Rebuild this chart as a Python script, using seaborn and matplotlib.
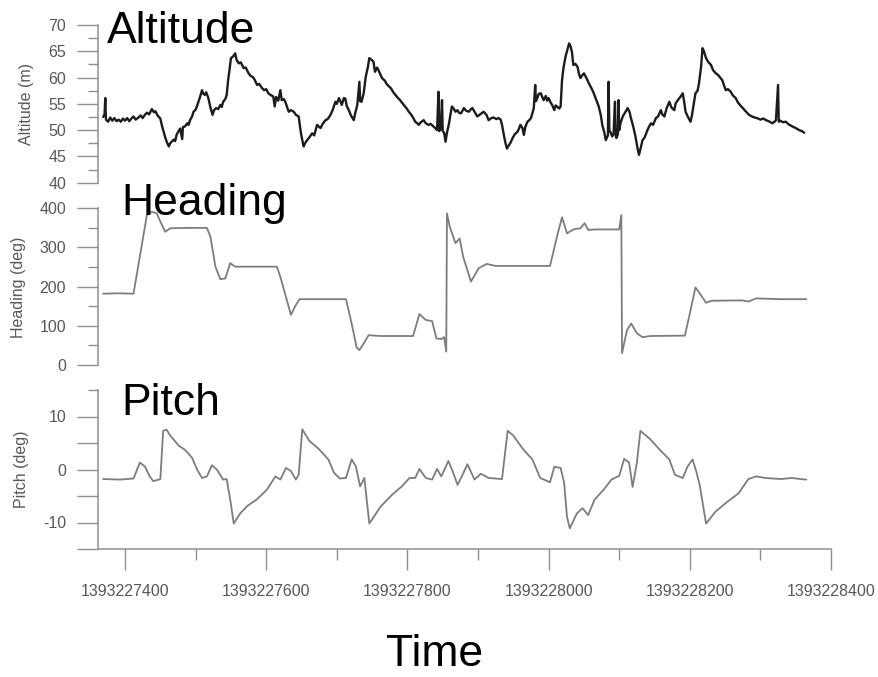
import matplotlib
matplotlib.use("Agg")
import matplotlib.pyplot as plt
import matplotlib.ticker as mticker
import pandas as pd
import seaborn as sns

# ---------------- data ----------------
T_REF = 1393227400  # seconds; offsets below are relative to this time

alt_offset = [-31, -29, -28, -27, -24, -21, -18, -15, -12, -9, -6, -3, 0, 3, 6, 9, 12, 15, 19, 22,
              25, 28, 31, 34, 38, 41, 43, 46, 50, 52, 54, 57, 59, 62, 64, 66, 69, 71, 73, 75,
              78, 81, 82, 85, 88, 90, 92, 95, 97, 100, 102, 104, 106, 109, 111, 113, 115, 118, 121, 124,
              126, 129, 132, 135, 137, 139, 142, 144, 146, 148, 150, 153, 156, 158, 161, 164, 168, 171, 175, 178,
              181, 184, 187, 190, 194, 197, 200, 203, 206, 210, 212, 214, 217, 220, 222, 225, 227, 230, 232, 235,
              239, 242, 246, 248, 250, 253, 255, 258, 261, 265, 268, 272, 275, 277, 280, 284, 287, 291, 294, 298,
              300, 303, 305, 307, 310, 312, 314, 317, 320, 324, 326, 329, 332, 333, 335, 338, 341, 344, 346, 349,
              352, 354, 357, 359, 362, 364, 368, 371, 374, 377, 380, 383, 386, 389, 393, 396, 399, 402, 405, 408,
              411, 414, 416, 419, 423, 426, 430, 433, 437, 440, 442, 444, 445, 447, 449, 450, 452, 454, 456, 459,
              461, 463, 466, 468, 471, 473, 476, 480, 483, 487, 490, 492, 495, 499, 502, 505, 508, 512, 515, 519,
              522, 526, 529, 532, 534, 537, 539, 541, 544, 546, 549, 552, 556, 558, 560, 563, 565, 567, 570, 572,
              575, 577, 579, 581, 582, 584, 586, 589, 591, 593, 596, 598, 600, 603, 605, 608, 610, 612, 615, 617,
              619, 621, 624, 626, 629, 631, 633, 635, 638, 641, 643, 645, 648, 650, 654, 657, 661, 664, 668, 671,
              674, 676, 679, 681, 684, 685, 686, 688, 690, 692, 694, 695, 696, 698, 699, 700, 702, 705, 708, 712,
              715, 716, 720, 723, 726, 728, 731, 733, 736, 740, 742, 745, 748, 752, 755, 759, 761, 764, 767, 771,
              774, 778, 780, 783, 786, 790, 792, 794, 797, 801, 803, 805, 808, 811, 813, 816, 818, 820, 823, 826,
              830, 833, 837, 840, 843, 846, 849, 851, 854, 858, 861, 865, 868, 871, 875, 879, 884, 888, 892, 896,
              900, 904, 908, 913, 917, 920, 922, 925, 926, 928, 932, 936, 940, 946, 950, 955, 959, 962]
alt_m = [52.5, 53.0, 56.1, 52.0, 51.6, 52.4, 51.8, 52.3, 51.7, 52.0, 51.6, 52.2, 51.8, 52.3, 51.7, 52.2, 52.6, 52.0, 52.4, 52.8,
         52.3, 52.9, 53.3, 53.0, 54.0, 53.4, 53.6, 52.8, 52.2, 51.0, 50.0, 48.6, 47.8, 46.9, 47.5, 47.8, 48.2, 47.9, 49.1, 49.6,
         50.3, 48.3, 50.6, 50.7, 51.3, 51.0, 51.9, 52.6, 53.5, 53.9, 54.6, 55.4, 56.2, 57.6, 56.9, 56.7, 57.2, 56.1, 54.3, 52.9,
         53.8, 54.2, 54.0, 54.8, 54.4, 55.4, 55.9, 56.7, 59.5, 61.5, 63.7, 64.0, 64.6, 63.4, 62.7, 62.9, 61.8, 61.9, 60.8, 60.3,
         60.1, 59.5, 58.6, 58.8, 58.0, 57.6, 57.8, 57.0, 56.7, 56.4, 54.5, 56.3, 55.6, 57.6, 55.7, 55.9, 55.4, 54.2, 53.5, 53.8,
         53.5, 52.9, 52.6, 50.5, 48.8, 46.9, 47.5, 48.1, 48.6, 49.4, 49.0, 51.0, 50.6, 50.4, 51.2, 51.9, 52.1, 52.9, 53.8, 55.4,
         55.0, 56.1, 55.5, 54.8, 56.1, 56.0, 54.6, 53.8, 52.8, 51.9, 53.2, 54.8, 59.2, 55.5, 55.4, 57.0, 60.2, 62.0, 63.7, 63.4,
         63.0, 61.1, 61.9, 61.4, 60.5, 59.9, 59.4, 58.7, 58.3, 57.9, 57.2, 56.7, 56.2, 55.8, 55.1, 54.6, 54.1, 53.5, 53.0, 52.4,
         51.6, 51.3, 51.0, 51.5, 51.9, 51.3, 51.0, 51.2, 50.7, 50.3, 50.0, 57.3, 49.8, 50.2, 55.7, 49.8, 49.5, 47.8, 49.5, 51.3,
         53.0, 54.5, 54.0, 53.5, 53.8, 53.3, 53.2, 54.2, 53.7, 53.5, 54.0, 54.2, 53.5, 52.6, 52.9, 53.2, 53.5, 52.9, 51.9, 52.3,
         52.4, 52.1, 52.3, 52.0, 51.0, 48.8, 47.5, 46.5, 47.2, 47.6, 48.5, 49.2, 49.7, 50.3, 51.0, 50.4, 49.1, 50.6, 51.6, 51.8,
         52.3, 53.2, 54.2, 58.6, 55.5, 56.1, 56.9, 57.0, 56.3, 55.7, 56.5, 55.6, 56.1, 55.2, 54.8, 53.8, 54.7, 54.5, 54.1, 54.5,
         59.5, 61.8, 64.0, 65.0, 66.5, 66.0, 64.9, 62.4, 62.6, 62.0, 60.7, 59.9, 60.5, 60.8, 59.8, 58.9, 57.9, 57.0, 55.6, 54.5,
         52.8, 51.0, 49.5, 48.1, 49.0, 59.2, 50.0, 49.5, 48.8, 49.3, 55.4, 49.0, 48.5, 49.2, 55.7, 50.0, 51.4, 52.6, 53.3, 54.2,
         53.3, 52.6, 50.6, 48.8, 46.5, 45.3, 46.9, 48.1, 48.6, 50.0, 50.6, 51.3, 51.0, 52.3, 52.6, 53.8, 53.0, 52.6, 54.1, 55.4,
         54.3, 53.8, 55.1, 55.7, 56.2, 57.0, 55.4, 53.5, 52.6, 51.6, 52.8, 54.5, 57.0, 57.5, 58.9, 62.1, 65.6, 65.0, 63.7, 63.0,
         62.4, 61.4, 60.8, 60.5, 60.0, 59.5, 58.3, 57.6, 57.8, 57.3, 56.6, 56.1, 55.3, 54.8, 54.2, 53.6, 52.9, 52.6, 52.4, 52.25,
         52.0, 52.2, 51.9, 51.6, 51.3, 51.6, 51.9, 58.6, 51.6, 51.8, 51.5, 51.6, 51.1, 50.65, 50.4, 50.0, 49.8, 49.5]

head_offset = [-31, -10, 12, 31, 38, 45, 50, 57, 64, 88, 116, 121, 128, 135, 142, 149, 156, 168, 215, 220,
               235, 241, 247, 275, 313, 321, 328, 332, 338, 345, 362, 408, 417, 426, 435, 441, 448, 452, 455, 456,
               460, 468, 474, 479, 490, 501, 512, 525, 602, 613, 619, 626, 635, 645, 651, 656, 665, 700, 703, 704,
               711, 717, 725, 733, 744, 793, 799, 808, 814, 823, 831, 874, 883, 894, 929, 965]
head_deg = [182, 183, 182, 383, 391, 387, 366, 340, 349, 350, 350, 327, 251, 219, 221, 260, 251, 251, 251, 225,
            128, 150, 168, 168, 168, 106, 45, 38, 55, 76, 74, 74, 130, 115, 112, 68, 66, 71, 34, 387,
            353, 311, 323, 276, 213, 247, 258, 253, 253, 336, 377, 336, 346, 349, 362, 345, 346, 346, 383, 30,
            89, 106, 81, 71, 74, 75, 123, 198, 183, 159, 164, 165, 162, 170, 168, 168]

pitch_offset = [-31, -7, 12, 21, 28, 35, 40, 50, 54, 59, 64, 76, 85, 95, 102, 109, 116, 123, 130, 139,
                144, 149, 154, 163, 173, 187, 201, 213, 220, 228, 235, 242, 246, 251, 261, 275, 288, 296, 304, 313,
                321, 327, 333, 339, 346, 362, 378, 392, 403, 411, 417, 426, 435, 442, 448, 458, 464, 471, 477, 485,
                495, 504, 515, 534, 542, 550, 564, 577, 588, 602, 608, 617, 622, 626, 630, 640, 648, 656, 665, 678,
                689, 700, 707, 714, 719, 725, 730, 744, 757, 771, 779, 790, 797, 804, 809, 814, 823, 836, 853, 869,
                883, 894, 907, 929, 945, 956, 965]
pitch_deg = [-1.8, -1.9, -1.7, 1.3, 0.6, -1.3, -2.2, -1.8, 7.3, 7.5, 6.4, 4.5, 3.7, 2.2, 0.0, -1.6, -1.3, 0.8, 0.0, -1.9,
             -1.8, -5.7, -10.2, -8.3, -6.9, -5.6, -3.8, -1.3, -1.9, 0.3, -0.3, -1.9, -1.0, 7.6, 5.4, 3.8, 1.9, -0.6, -1.7, -1.6,
             1.9, 0.6, -3.2, -1.6, -10.2, -7.0, -4.8, -3.2, -1.6, -1.6, 0.1, -1.6, -1.9, 0.1, -1.3, 1.6, -0.3, -2.9, -1.3, 1.0,
             -1.9, -0.8, -1.6, -1.8, 7.3, 6.4, 3.8, 1.9, -1.6, -2.4, 0.5, 0.3, -2.5, -8.9, -11.1, -8.3, -7.3, -8.6, -5.7, -3.8,
             -1.9, -1.2, 2.0, 1.3, -3.3, 1.3, 7.3, 5.7, 3.8, 1.9, -1.0, -1.6, 0.6, 1.9, -0.3, -2.9, -10.2, -8.0, -6.1, -4.5,
             -1.8, -1.3, -1.6, -1.8, -1.6, -1.8, -1.9]

x_ticks = [1393227400, 1393227600, 1393227800, 1393228000, 1393228200, 1393228400]
alt_ticks = [40, 45, 50, 55, 60, 65, 70]
head_ticks = [0, 100, 200, 300, 400]
pitch_ticks = [-10, 0, 10]

titles = ["Altitude", "Heading", "Pitch"]
ylabels = ["Altitude (m)", "Heading (deg)", "Pitch (deg)"]
xlabel = "Time"

# ---------------- styling ----------------
sns.set_style("white")
plt.rcParams['font.family'] = ['Liberation Sans', 'DejaVu Sans']

SPINE = "#8f8f8f"
TICKLAB = "#585858"
W, H = 879, 677

fig = plt.figure(figsize=(W / 100, H / 100), dpi=100)


def rect(l, r, t, b):
    return [l / W, 1 - b / H, (r - l) / W, (b - t) / H]


ax_alt = fig.add_axes(rect(98, 831, 25, 182.7))
ax_head = fig.add_axes(rect(98, 831, 208.3, 365))
ax_pitch = fig.add_axes(rect(98, 831, 390, 549))

df_alt = pd.DataFrame({"t": [T_REF + o for o in alt_offset], "v": alt_m})
df_head = pd.DataFrame({"t": [T_REF + o for o in head_offset], "v": head_deg})
df_pitch = pd.DataFrame({"t": [T_REF + o for o in pitch_offset], "v": pitch_deg})

sns.lineplot(data=df_alt, x="t", y="v", ax=ax_alt, color="#1c1c1c", linewidth=1.7,
             estimator=None, sort=False)
sns.lineplot(data=df_head, x="t", y="v", ax=ax_head, color="#7d7d7d", linewidth=1.3,
             estimator=None, sort=False)
sns.lineplot(data=df_pitch, x="t", y="v", ax=ax_pitch, color="#7d7d7d", linewidth=1.3,
             estimator=None, sort=False)

xlim = (T_REF - 38.3, x_ticks[-1])
for ax in (ax_alt, ax_head, ax_pitch):
    ax.set_xlim(*xlim)
    ax.set_xlabel("")
    ax.set_ylabel("")
    ax.set_facecolor("white")
    for s in ("top", "right", "bottom"):
        ax.spines[s].set_visible(False)
    ax.spines["left"].set_color(SPINE)
    ax.spines["left"].set_linewidth(1.1)
    ax.tick_params(axis="y", which="major", length=15, width=1.0, color=SPINE,
                   labelcolor=TICKLAB, labelsize=11.5, pad=8, left=True)
    ax.tick_params(axis="y", which="minor", length=7, width=1.0, color=SPINE, left=True)
    ax.grid(False)

for ax in (ax_alt, ax_head):
    ax.tick_params(axis="x", which="both", bottom=False, labelbottom=False)

ax_alt.set_ylim(40, 70)
ax_alt.yaxis.set_major_locator(mticker.FixedLocator(alt_ticks))
ax_alt.yaxis.set_minor_locator(mticker.MultipleLocator(2.5))

ax_head.set_ylim(0, 400)
ax_head.yaxis.set_major_locator(mticker.FixedLocator(head_ticks))
ax_head.yaxis.set_minor_locator(mticker.MultipleLocator(50))

ax_pitch.set_ylim(-15, 15)
ax_pitch.yaxis.set_major_locator(mticker.FixedLocator([-15, -10, -5, 0, 5, 10]))
ax_pitch.yaxis.set_major_formatter(
    mticker.FuncFormatter(lambda v, p: f"{v:.0f}" if v in pitch_ticks else ""))
ax_pitch.yaxis.set_minor_locator(mticker.FixedLocator([15]))

ax_pitch.spines["bottom"].set_visible(True)
ax_pitch.spines["bottom"].set_color(SPINE)
ax_pitch.spines["bottom"].set_linewidth(1.1)
ax_pitch.xaxis.set_major_locator(mticker.FixedLocator(x_ticks))
ax_pitch.xaxis.set_minor_locator(mticker.MultipleLocator(100))
ax_pitch.xaxis.set_major_formatter(mticker.FuncFormatter(lambda v, p: f"{v:.0f}"))
ax_pitch.tick_params(axis="x", which="major", bottom=True, length=15, width=1.0, color=SPINE,
                     labelcolor=TICKLAB, labelsize=11.5, pad=10)
ax_pitch.tick_params(axis="x", which="minor", bottom=True, length=8, width=1.0, color=SPINE)

# big panel titles
fig.text(107 / W, 1 - 43 / H, titles[0], fontsize=32, ha="left", va="baseline", color="black")
fig.text(121 / W, 1 - 215 / H, titles[1], fontsize=32, ha="left", va="baseline", color="black")
fig.text(121 / W, 1 - 415 / H, titles[2], fontsize=32, ha="left", va="baseline", color="black")

# y-axis labels
fig.text(27 / W, 1 - 104 / H, ylabels[0], rotation=90, ha="center", va="center",
         fontsize=11.5, color=TICKLAB)
fig.text(19 / W, 1 - 287 / H, ylabels[1], rotation=90, ha="center", va="center",
         fontsize=11.5, color=TICKLAB)
fig.text(22 / W, 1 - 469 / H, ylabels[2], rotation=90, ha="center", va="center",
         fontsize=11.5, color=TICKLAB)

# x-axis label
fig.text(435 / W, 2 / H, xlabel, fontsize=32, ha="center", va="bottom", color="black")

fig.savefig("out.png", dpi=100, facecolor="white")
